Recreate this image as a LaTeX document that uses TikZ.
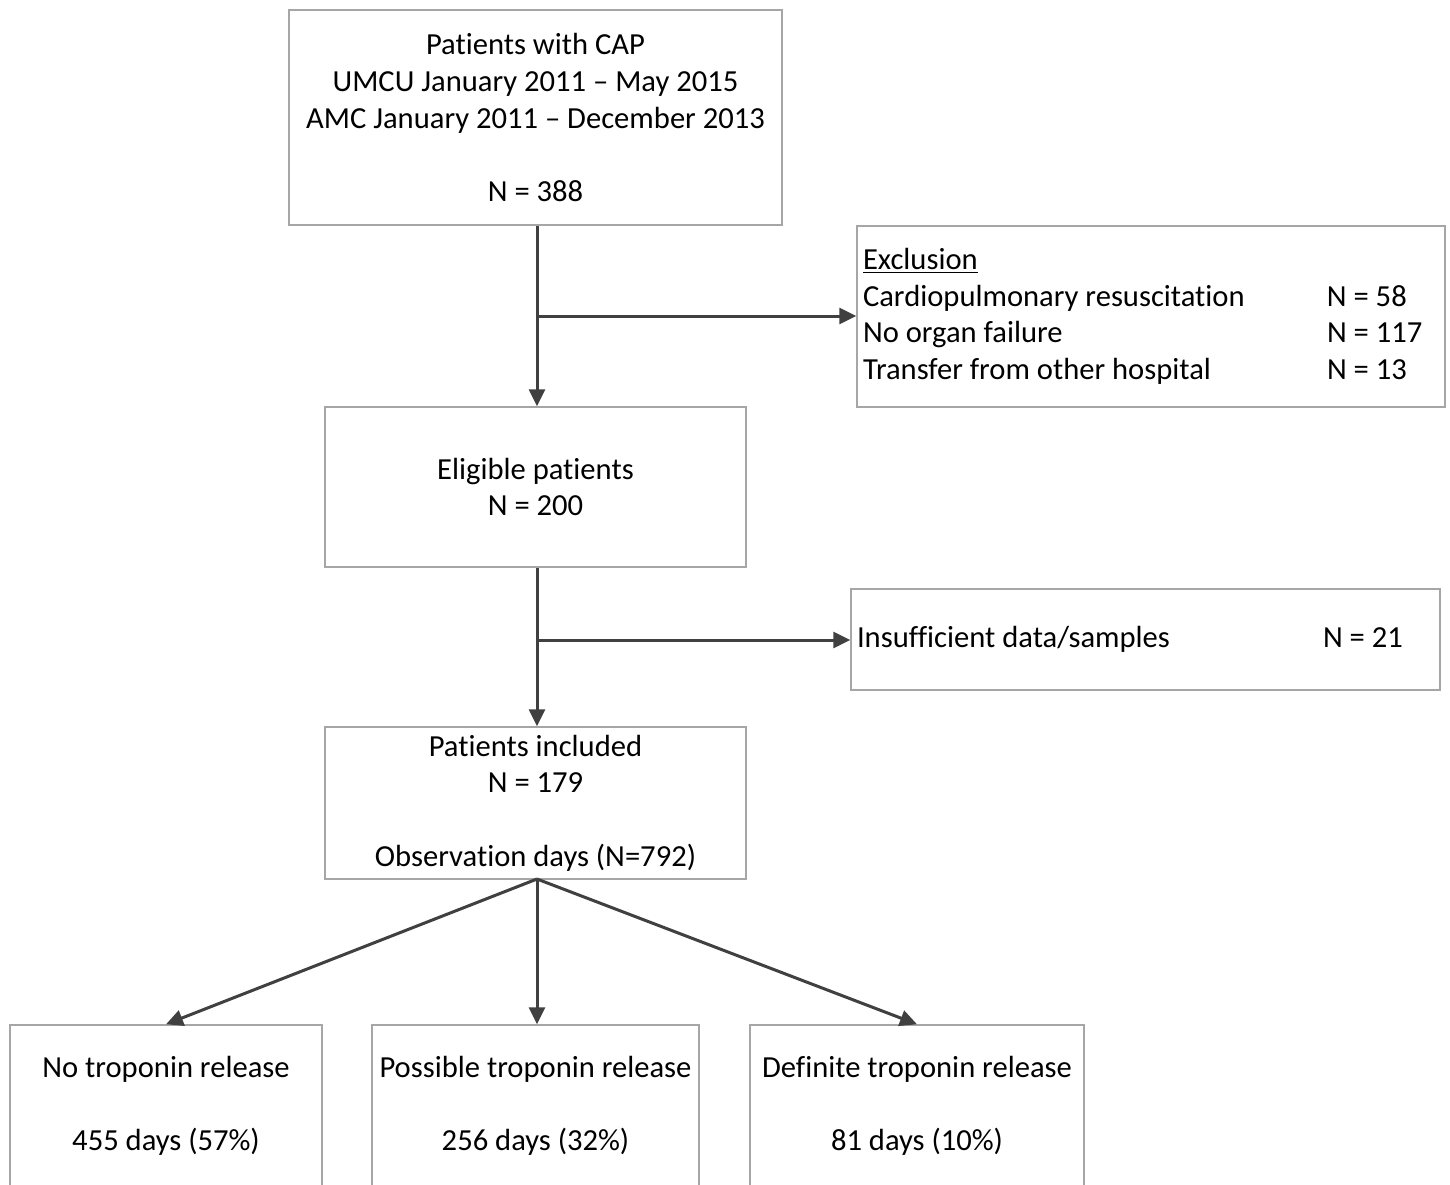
\documentclass[tikz,border=0pt]{standalone}
\usepackage{fontspec}
\setmainfont{Carlito}[Ligatures={NoCommon}]
\usetikzlibrary{arrows.meta}
\definecolor{arrgray}{HTML}{404040}
\definecolor{boxgray}{HTML}{A6A6A6}
\newcommand{\lcol}[2]{\makebox[#1][l]{#2}}
\newcommand{\natsp}{\spaceskip=0pt\xspaceskip=0pt\relax}
\begin{document}
\begin{tikzpicture}[x=0.5pt,y=-0.5pt,
  box/.style={draw=boxgray,line width=0.75pt,inner sep=3pt,align=center,
    font=\fontsize{15.3}{18.3}\selectfont},
  arr/.style={draw=arrgray,line width=1.5pt,-{Triangle[length=8.5pt,width=8pt]}}]
\clip (0,0) rectangle (1450,1184);
\fill[white] (0,0) rectangle (1450,1184);
\node[box,minimum width=246.5pt,minimum height=107.5pt] (src) at (535.5,117.5)
  {Patients with CAP\\UMCU January 2011 – May 2015\\AMC January 2011 – December 2013\\[18.3pt]N = 388};
\node[box,text width=288pt,minimum height=90.5pt,align=left] (excl) at (1151,316.5)
  {\natsp\underline{Exclusion}\\
   \lcol{232pt}{Cardiopulmonary resuscitation}N = 58\\
   \lcol{232pt}{No organ failure}N = 117\\
   \lcol{232pt}{Transfer from other hospital}N = 13};
\node[box,minimum width=210.5pt,minimum height=80pt] (elig) at (535.5,487)
  {Eligible patients\\N = 200};
\node[box,text width=288.5pt,minimum height=50.5pt,align=left] (insuf) at (1145.5,639.5)
  {\natsp\lcol{233pt}{Insufficient data/samples}N = 21};
\node[box,minimum width=210.5pt,minimum height=76pt] (incl) at (535.5,803)
  {Patients included\\N = 179\\[18.3pt]Observation days (N=792)};
\node[box,minimum width=156pt,minimum height=80.5pt] (noT) at (166,1105.5)
  {No troponin release\\[18.3pt]455 days (57\%)};
\node[box,minimum width=163.5pt,minimum height=80.5pt] (posT) at (535.5,1105.5)
  {Possible troponin release\\[18.3pt]256 days (32\%)};
\node[box,minimum width=167pt,minimum height=80.5pt] (defT) at (917,1105.5)
  {Definite troponin release\\[18.3pt]81 days (10\%)};
\coordinate (j1) at (537,316);
\coordinate (j2) at (537,640);
\draw[arr] (src.south -| j1) -- (elig.north -| j1);
\draw[arr] (j1) -- (j1 -| excl.west);
\draw[arr] (elig.south -| j2) -- (incl.north -| j2);
\draw[arr] (j2) -- (j2 -| insuf.west);
\coordinate (fan) at (537,879);
\draw[arr] (fan) -- (noT.north);
\draw[arr] (fan) -- (posT.north -| fan);
\draw[arr] (fan) -- (defT.north);
\end{tikzpicture}
\end{document}
